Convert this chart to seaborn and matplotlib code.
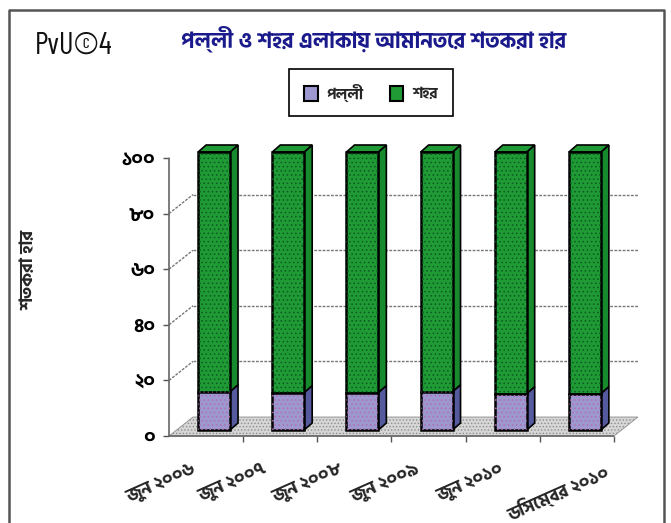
import numpy as np
import matplotlib
matplotlib.use("Agg")
import matplotlib.pyplot as plt
import seaborn as sns
from matplotlib.patches import Polygon, Rectangle
from matplotlib.lines import Line2D
from matplotlib.transforms import Affine2D

categories = ["জুন ২০০৬", "জুন ২০০৭", "জুন ২০০৮", "জুন ২০০৯", "জুন ২০১০", "ডিসেম্বর ২০১০"]
rural = [13.7, 13.4, 13.4, 13.7, 13.0, 13.0]
urban = [86.3, 86.6, 86.6, 86.3, 87.0, 87.0]
y_ticks = [0, 20, 40, 60, 80, 100]
y_tick_labels = ["০", "২০", "৪০", "৬০", "৮০", "১০০"]
title = "পল্লী ও শহর এলাকায় আমানতের শতকরা হার"
y_label = "শতকরা হার"
series_names = ["পল্লী", "শহর"]
chart_tag = "PvU©4"

families = ["Hind Siliguri", "Noto Sans Bengali", "DejaVu Sans"]
sns.set_style("white")
plt.rcParams["font.family"] = families
plt.rcParams["hatch.linewidth"] = 0.6

W, H = 671, 523
fig = plt.figure(figsize=(W / 100, H / 100), dpi=100, facecolor="white")
L, R, T, B = 169, 614, 158, 436
ax = fig.add_axes([L / W, 1 - B / H, (R - L) / W, (B - T) / H])
ax.set_facecolor("none")

GREEN, PERI = "#1f9a35", "#9d98cf"
sns.barplot(x=categories, y=urban, bottom=rural, color=GREEN, saturation=1, width=0.43,
            edgecolor="black", linewidth=1.8, ax=ax, zorder=5)
n = len(categories)
sns.barplot(x=categories, y=rural, color=PERI, saturation=1, width=0.43,
            edgecolor="black", linewidth=1.8, ax=ax, zorder=5)
ax.set_xlim(-0.5, n - 0.5)
ax.set_ylim(0, 100)

def off(dx, dy):
    return ax.transData + Affine2D().translate(dx, dy)

BAR_DX, BAR_DY = 8, 6      # shift of the bars from the front plane (pixels)
DX, DY = 8, 7              # depth of a bar
WALL_DX, WALL_DY = 24, 19  # depth of the floor

bar_tr = off(BAR_DX, BAR_DY)
fig.canvas.draw()
inv = ax.transData.inverted()
ux = inv.transform((1, 0))[0] - inv.transform((0, 0))[0]
uy = inv.transform((0, 1))[1] - inv.transform((0, 0))[1]

bars = list(ax.patches)
for p in bars:
    p.set_transform(bar_tr)
    p.set_clip_on(False)
    x0, y0, w, h = p.get_x(), p.get_y(), p.get_width(), p.get_height()
    is_green = y0 > 0
    side = "#178a2e" if is_green else "#555a9e"
    ax.add_patch(Polygon([(x0 + w, y0), (x0 + w + DX * ux, y0 + DY * uy),
                          (x0 + w + DX * ux, y0 + h + DY * uy), (x0 + w, y0 + h)],
                         closed=True, fc=side, ec="black", lw=1.2, transform=bar_tr, zorder=4, clip_on=False))
    if is_green:
        ax.add_patch(Polygon([(x0, y0 + h), (x0 + DX * ux, y0 + h + DY * uy),
                              (x0 + w + DX * ux, y0 + h + DY * uy), (x0 + w, y0 + h)],
                             closed=True, fc=GREEN, ec="black", lw=1.2, transform=bar_tr, zorder=4, clip_on=False))
    ax.add_patch(Rectangle((x0, y0), w, h, fc="none", lw=0, hatch="....",
                           ec="#0d5a24" if is_green else "#b06fb0",
                           transform=bar_tr, zorder=6, clip_on=False))

# floor
ax.add_patch(Polygon([(-0.5, 0), (-0.5 + WALL_DX * ux, WALL_DY * uy),
                      (n - 0.5 + WALL_DX * ux, WALL_DY * uy), (n - 0.5, 0)],
                     closed=True, fc="#d6d6d6", ec="#8f8f8f", lw=0.6, hatch=".....", zorder=1, clip_on=False))

# wall grid lines and the diagonals on the side wall
grid_kw = dict(color="#777777", lw=1.0, ls=(0, (2, 1)), clip_on=False)
for t in y_ticks[1:-1]:
    yb = t + WALL_DY * uy
    ax.plot([-0.5 + WALL_DX * ux, n - 0.5 + WALL_DX * ux], [yb, yb], zorder=2, **grid_kw)
    ax.plot([-0.5, -0.5 + WALL_DX * ux], [t, yb], zorder=2, **grid_kw)

for s in ["top", "right"]:
    ax.spines[s].set_visible(False)
for s in ["left", "bottom"]:
    ax.spines[s].set_color("#666666")
    ax.spines[s].set_linewidth(1.2)
    ax.spines[s].set_linestyle((0, (1.5, 1)))

ax.set_yticks(y_ticks, y_tick_labels, fontsize=14, fontweight="bold", color="black")
ax.tick_params(axis="y", length=4, width=1, color="#555555", pad=6, left=True)
ax.set_xticks(np.arange(n) + 0.5, [""] * n)
ax.tick_params(axis="x", length=4, width=1, color="#555555", bottom=True)
ax.set_xlabel("")
ax.set_xlim(-0.5, n - 0.5)
ax.set_ylim(0, 100)

# right-hand ends of the slanted month labels, as pixel offsets from the slot centre
label_shift = [-14, -18, -16, -13, -4, 27]
for i, (cat, dx) in enumerate(zip(categories, label_shift)):
    ax.annotate(cat, xy=(i, 0), xycoords=("data", "axes fraction"), xytext=(dx * 0.72, -18),
                textcoords="offset points", rotation=24, ha="right", va="top",
                rotation_mode="anchor", fontsize=13, fontweight="bold", annotation_clip=False)

fig.text(29 / W, 1 - 270 / H, y_label, rotation=90, ha="center", va="center", fontsize=13, fontweight="bold")
fig.text(374 / W, 1 - 39 / H, title, ha="center", va="center", fontsize=15.5, fontweight="bold", color="#1a1a8c")
fig.text(35 / W, 1 - 46 / H, chart_tag, ha="left", va="center", fontsize=22,
         family=["Barlow Condensed", "Archivo Narrow", "Liberation Sans"], color="#111111")

# chart frame
fig.add_artist(Line2D([9 / W, 9 / W, 664 / W, 664 / W], [0, 1 - 10 / H, 1 - 10 / H, 0], color="#555555", lw=1.8))

# legend
handles = [Rectangle((0, 0), 1, 1, fc=PERI, ec="black", lw=1.5), Rectangle((0, 0), 1, 1, fc=GREEN, ec="black", lw=1.5)]
leg = fig.legend(handles, series_names, ncol=2, loc="center", bbox_to_anchor=(371 / W, 1 - 92.5 / H),
                 frameon=True, fancybox=False, edgecolor="black", framealpha=1,
                 handlelength=0.9, handleheight=1.1, handletextpad=0.6, columnspacing=1.7,
                 borderpad=0.95, prop={"weight": "bold", "size": 11, "family": families})
leg.get_frame().set_linewidth(1.2)

fig.savefig("out.png", dpi=100)
